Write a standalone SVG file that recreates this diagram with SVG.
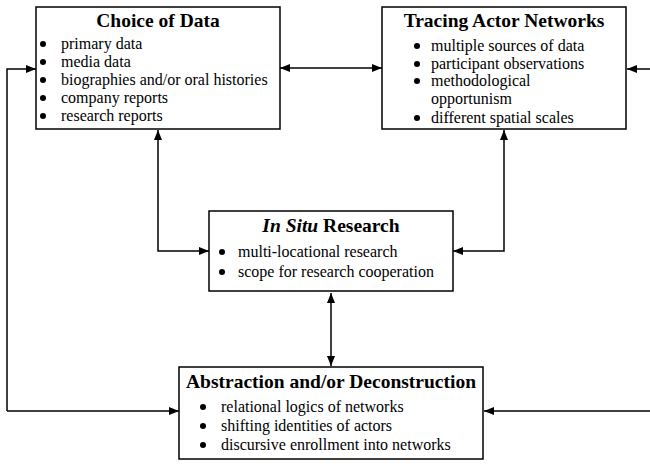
<svg xmlns="http://www.w3.org/2000/svg" width="650" height="464" viewBox="0 0 650 464">
<style>
.box{fill:#fff;stroke:#000;stroke-width:1.5}
.t{font-family:"Liberation Serif","Times New Roman",serif;font-size:19.5px;font-weight:bold;text-anchor:middle}
.b{font-family:"Liberation Serif","Times New Roman",serif;font-size:16px}
.dot{fill:#000}
.c{fill:none;stroke:#000;stroke-width:1.5}
</style>
<defs>
<marker id="ah" viewBox="0 0 10 8" refX="10" refY="4" markerWidth="10" markerHeight="8" markerUnits="userSpaceOnUse" orient="auto-start-reverse">
<path d="M0,0 L10,4 L0,8 z" fill="#000"/>
</marker>
</defs>
<g id="connectors">
<path class="c" d="M280,68 L382,68" marker-start="url(#ah)" marker-end="url(#ah)"/>
<path class="c" d="M158,130 L158,251 L209,251" marker-start="url(#ah)" marker-end="url(#ah)"/>
<path class="c" d="M504,130 L504,251 L453,251" marker-start="url(#ah)" marker-end="url(#ah)"/>
<path class="c" d="M331,293 L331,366" marker-start="url(#ah)" marker-end="url(#ah)"/>
<path class="c" d="M7,411 L7,69 L36,69" marker-end="url(#ah)"/>
<path class="c" d="M7,411 L179,411" marker-end="url(#ah)"/>
<path class="c" d="M650,69 L627,69" marker-end="url(#ah)"/>
<path class="c" d="M650,411 L484,411" marker-end="url(#ah)"/>
</g>
<g id="choice">
<rect class="box" x="36" y="7" width="244" height="122"/>
<text class="t" x="158" y="27">Choice of Data</text>
<circle class="dot" cx="43" cy="44" r="3"/><text class="b" x="61" y="49">primary data</text>
<circle class="dot" cx="43" cy="62" r="3"/><text class="b" x="61" y="67">media data</text>
<circle class="dot" cx="43" cy="80" r="3"/><text class="b" x="61" y="85">biographies and/or oral histories</text>
<circle class="dot" cx="43" cy="98" r="3"/><text class="b" x="61" y="103">company reports</text>
<circle class="dot" cx="43" cy="116" r="3"/><text class="b" x="61" y="121">research reports</text>
</g>
<g id="tracing">
<rect class="box" x="382" y="7" width="244" height="122"/>
<text class="t" x="504" y="27">Tracing Actor Networks</text>
<circle class="dot" cx="417" cy="46" r="3"/><text class="b" x="431" y="51">multiple sources of data</text>
<circle class="dot" cx="417" cy="64" r="3"/><text class="b" x="431" y="69">participant observations</text>
<circle class="dot" cx="417" cy="81" r="3"/><text class="b"><tspan x="431" y="86">methodological</tspan><tspan x="431" y="104">opportunism</tspan></text>
<circle class="dot" cx="417" cy="118" r="3"/><text class="b" x="431" y="123">different spatial scales</text>
</g>
<g id="insitu">
<rect class="box" x="209" y="211" width="244" height="80"/>
<text class="t" x="331" y="232"><tspan font-style="italic">In Situ</tspan> Research</text>
<circle class="dot" cx="222" cy="252" r="3"/><text class="b" x="238" y="257">multi-locational research</text>
<circle class="dot" cx="222" cy="272" r="3"/><text class="b" x="238" y="277">scope for research cooperation</text>
</g>
<g id="abstraction">
<rect class="box" x="179" y="367" width="304" height="92"/>
<text class="t" x="331" y="388">Abstraction and/or Deconstruction</text>
<circle class="dot" cx="203" cy="407" r="3"/><text class="b" x="221" y="412">relational logics of networks</text>
<circle class="dot" cx="203" cy="426" r="3"/><text class="b" x="221" y="431">shifting identities of actors</text>
<circle class="dot" cx="203" cy="445" r="3"/><text class="b" x="221" y="450">discursive enrollment into networks</text>
</g>
</svg>
